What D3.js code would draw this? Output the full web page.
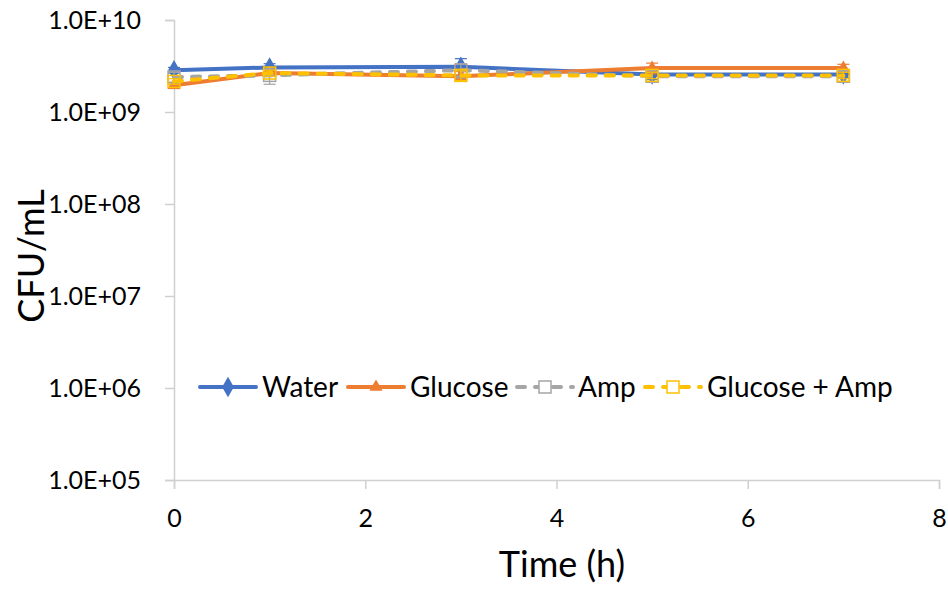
<!DOCTYPE html>
<html>
<head>
<meta charset="utf-8">
<script src="https://cdn.jsdelivr.net/npm/d3@7"></script>
<style>
  body { margin: 0; background: #fff; }
  text { font-family: Lato, "Open Sans", sans-serif; fill: #000; }
</style>
</head>
<body>
<script>
// time points (h)
const times = [0, 1, 3, 5, 7];

// CFU/mL
const water = [2.85e9, 3.05e9, 3.1e9, 2.55e9, 2.55e9];
const glucose = [1.95e9, 2.65e9, 2.45e9, 3.0e9, 3.0e9];
const amp = [2.4e9, 2.5e9, 2.85e9, 2.45e9, 2.45e9];
const glucoseAmp = [2.15e9, 2.65e9, 2.5e9, 2.5e9, 2.5e9];

// error bar half-widths (same units)
const waterErr = [0.2e9, 0.3e9, 0.7e9, 0.3e9, 0.2e9];
const glucoseErr = [0.15e9, 0.2e9, 0.3e9, 0.4e9, 0.3e9];
const ampErr = [0.3e9, 0.5e9, 0.5e9, 0.35e9, 0.3e9];
const glucoseAmpErr = [0.15e9, 0.2e9, 0.3e9, 0.2e9, 0.2e9];

const yTicks = [1e5, 1e6, 1e7, 1e8, 1e9, 1e10];
const xTicks = [0, 2, 4, 6, 8];

const series = [
  { name: "Water", values: water, err: waterErr, color: "#4472c4", marker: "diamond", dash: null },
  { name: "Glucose", values: glucose, err: glucoseErr, color: "#ed7d31", marker: "triangle", dash: null },
  { name: "Amp", values: amp, err: ampErr, color: "#a5a5a5", marker: "square", dash: "8,10" },
  { name: "Glucose + Amp", values: glucoseAmp, err: glucoseAmpErr, color: "#ffc000", marker: "square", dash: "8,10" }
];

const w = 948, h = 592;

const svg = d3.select("body").append("svg")
  .attr("width", w)
  .attr("height", h);

const x = d3.scaleLinear().domain([0, 8]).range([174, 939]);
const y = d3.scaleLog().domain([1e5, 1e10]).range([480, 20]);

const fmt = v => "1.0E+" + String(Math.round(Math.log10(v))).padStart(2, "0");

// y axis
const yAxis = svg.append("g")
  .attr("transform", "translate(174,0)")
  .call(d3.axisLeft(y).tickValues(yTicks).tickFormat(fmt).tickSize(9).tickPadding(24));
// x axis
const xAxis = svg.append("g")
  .attr("transform", "translate(0,480)")
  .call(d3.axisBottom(x).tickValues(xTicks).tickSize(9).tickPadding(20));

[yAxis, xAxis].forEach(g => {
  g.select(".domain").attr("stroke", "#d0d0d0").attr("stroke-width", 1.5);
  g.selectAll(".tick line").attr("stroke", "#d0d0d0").attr("stroke-width", 1.5);
  g.selectAll(".tick text").style("font-size", "25px").attr("fill", "#000");
});

// axis titles
svg.append("text")
  .attr("x", 562).attr("y", 577)
  .attr("text-anchor", "middle")
  .style("font-size", "36px")
  .text("Time (h)");

svg.append("text")
  .attr("transform", "translate(44,256) rotate(-90)")
  .attr("text-anchor", "middle")
  .style("font-size", "36px")
  .text("CFU/mL");

function drawMarker(g, type, cx, cy, color) {
  if (type === "diamond") {
    g.append("path")
      .attr("d", d3.symbol().type(d3.symbolDiamond).size(120)())
      .attr("transform", `translate(${cx},${cy})`)
      .attr("fill", color);
  } else if (type === "triangle") {
    g.append("path")
      .attr("d", d3.symbol().type(d3.symbolTriangle).size(75)())
      .attr("transform", `translate(${cx},${cy})`)
      .attr("fill", color);
  } else {
    g.append("rect")
      .attr("x", cx - 6).attr("y", cy - 6)
      .attr("width", 12).attr("height", 12)
      .attr("fill", "none")
      .attr("stroke", color)
      .attr("stroke-width", 1.5);
  }
}

const line = d3.line()
  .x(d => x(d[0]))
  .y(d => y(d[1]));

const plot = svg.append("g");

series.forEach(s => {
  const g = plot.append("g");
  const pts = times.map((t, i) => [t, s.values[i], s.err[i]]);
  // error bars
  pts.forEach(p => {
    const y1 = y(p[1] + p[2]), y0 = y(Math.max(p[1] - p[2], 1e5));
    g.append("line").attr("x1", x(p[0])).attr("x2", x(p[0]))
      .attr("y1", y1).attr("y2", y0)
      .attr("stroke", s.color).attr("stroke-width", 1.2);
    [y1, y0].forEach(yy => g.append("line")
      .attr("x1", x(p[0]) - 6).attr("x2", x(p[0]) + 6)
      .attr("y1", yy).attr("y2", yy)
      .attr("stroke", s.color).attr("stroke-width", 1.2));
  });
  g.append("path")
    .datum(pts)
    .attr("d", line)
    .attr("fill", "none")
    .attr("stroke", s.color)
    .attr("stroke-width", 4)
    .attr("stroke-linecap", "round")
    .attr("stroke-dasharray", s.dash);
  pts.forEach(p => drawMarker(g, s.marker, x(p[0]), y(p[1]), s.color));
});

// legend
const legendItems = [
  { x0: 200, tx: 262 },
  { x0: 348, tx: 410 },
  { x0: 517, tx: 578 },
  { x0: 645, tx: 707 }
];
const ly = 387;
series.forEach((s, i) => {
  const li = legendItems[i];
  const g = svg.append("g");
  g.append("line")
    .attr("x1", li.x0).attr("x2", li.x0 + 56)
    .attr("y1", ly).attr("y2", ly)
    .attr("stroke", s.color)
    .attr("stroke-width", 4)
    .attr("stroke-linecap", "round")
    .attr("stroke-dasharray", s.dash ? "8,10" : null);
  if (s.dash) {
    g.append("rect").attr("x", li.x0 + 22).attr("y", ly - 6)
      .attr("width", 12).attr("height", 12).attr("fill", "#fff");
  }
  drawMarker(g, s.marker, li.x0 + 28, ly, s.color);
  g.append("text")
    .attr("x", li.tx).attr("y", ly + 10)
    .style("font-size", "28px")
    .text(s.name);
});
</script>
</body>
</html>
